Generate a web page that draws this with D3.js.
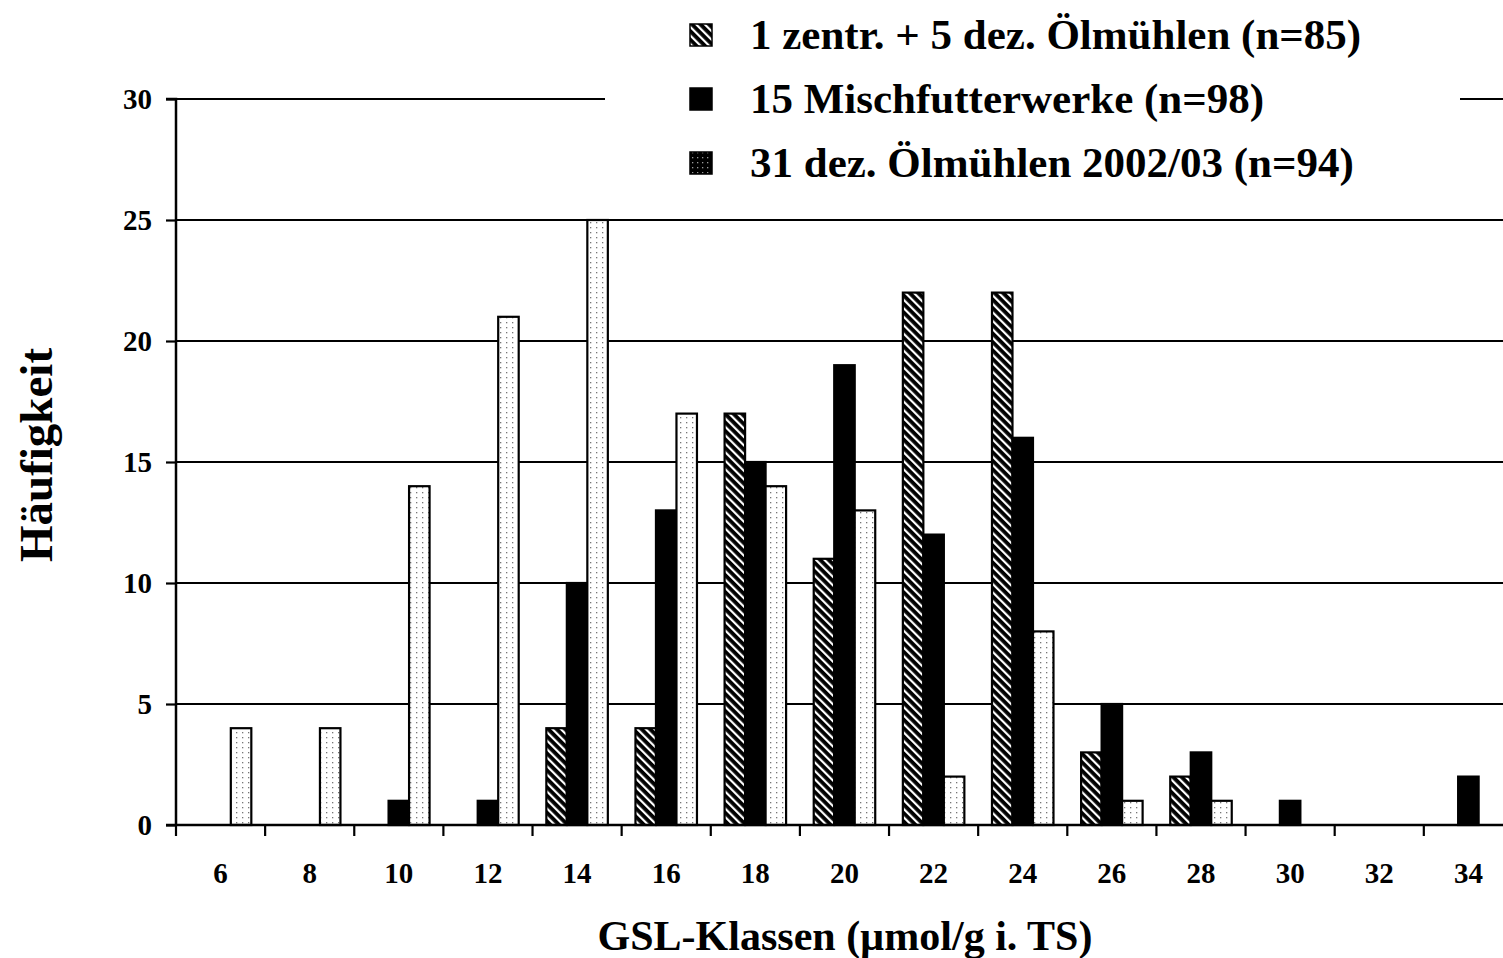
<!DOCTYPE html>
<html><head><meta charset="utf-8">
<script src="https://cdn.jsdelivr.net/npm/d3@7"></script>
<style>body{margin:0;background:#fff}svg{display:block}text{font-family:"Liberation Serif","Times New Roman",serif;font-weight:bold;fill:#000}</style>
</head><body><svg id="c" width="1503" height="958"></svg>
<script>
const categories = ["6","8","10","12","14","16","18","20","22","24","26","28","30","32","34"];
const seriesNames = ["1 zentr. + 5 dez. Ölmühlen (n=85)","15 Mischfutterwerke (n=98)","31 dez. Ölmühlen 2002/03 (n=94)"];
const zentrDez = [0,0,0,0,4,4,17,11,22,22,3,2,0,0,0];
const mischfutter = [0,0,1,1,10,13,15,19,12,16,5,3,1,0,2];
const dezOel = [4,4,14,21,25,17,14,13,2,8,1,1,0,0,0];
const yTicks = [0,5,10,15,20,25,30];
const xTitle = "GSL-Klassen (µmol/g i. TS)";
const yTitle = "Häufigkeit";

const svg = d3.select("#c");
const defs = svg.append("defs");
const ph = defs.append("pattern").attr("id","hatch").attr("patternUnits","userSpaceOnUse")
  .attr("width",6).attr("height",6).attr("patternTransform","rotate(-45)");
ph.append("rect").attr("width",6).attr("height",6).attr("fill","#000");
ph.append("rect").attr("x",0).attr("width",2.2).attr("height",6).attr("fill","#fff");
const pd = defs.append("pattern").attr("id","dots").attr("patternUnits","userSpaceOnUse").attr("width",6).attr("height",5);
pd.append("rect").attr("width",6).attr("height",5).attr("fill","#fff");
pd.append("rect").attr("x",2).attr("y",2).attr("width",1.3).attr("height",1.3).attr("fill","#777");
const pdl = defs.append("pattern").attr("id","dotsL").attr("patternUnits","userSpaceOnUse").attr("width",5).attr("height",5);
pdl.append("rect").attr("width",5).attr("height",5).attr("fill","#000");
pdl.append("rect").attr("x",2).attr("y",2).attr("width",1.3).attr("height",1.3).attr("fill","#999");
const fills = ["url(#hatch)","#000","url(#dots)"];
const legendFills = ["url(#hatch)","#000","url(#dotsL)"];

const x0 = 176, plotBottom = 825, plotTop = 99;
const x = d3.scaleBand().domain(categories).range([x0, x0 + 15*89.13]).padding(0);
const y = d3.scaleLinear().domain([0,30]).range([plotBottom, plotTop]);
const x1 = d3.scaleBand().domain([0,1,2]).range([0, 61.5]);
const groupOff = (x.bandwidth() - 61.5)/2;

// gridlines
svg.append("g").selectAll("line").data(yTicks.filter(d=>d>0)).join("line")
  .attr("x1",x0).attr("x2",1503).attr("y1",d=>y(d)).attr("y2",d=>y(d))
  .attr("stroke","#000").attr("stroke-width",2.2);

// bars
const series = [zentrDez, mischfutter, dezOel];
series.forEach((vals,si)=>{
  svg.append("g").selectAll("rect").data(categories.map((c,i)=>({c,v:vals[i]})).filter(d=>d.v>0)).join("rect")
    .attr("x",d=>x(d.c)+groupOff+x1(si))
    .attr("y",d=>y(d.v))
    .attr("width",x1.bandwidth())
    .attr("height",d=>plotBottom-y(d.v))
    .attr("fill",fills[si]).attr("stroke","#000").attr("stroke-width",2.2);
});

// y axis
const yAxis = d3.axisLeft(y).tickValues(yTicks).tickSize(10).tickPadding(14);
const gy = svg.append("g").attr("transform",`translate(${x0},0)`).call(yAxis);
gy.select(".domain").attr("stroke-width",2.5).attr("d",`M-10,${plotTop}H0V${plotBottom}`);
gy.selectAll(".tick line").attr("stroke-width",2.2);
gy.selectAll("text").attr("font-size",29).attr("font-family","Liberation Serif").attr("font-weight","bold");

// x axis
const gx = svg.append("g").attr("transform",`translate(0,${plotBottom})`);
gx.append("line").attr("x1",x0-10).attr("x2",1503).attr("y1",0).attr("y2",0).attr("stroke","#000").attr("stroke-width",2.5);
gx.selectAll(".tk").data(categories).join("line").attr("class","tk")
  .attr("x1",d=>x(d)).attr("x2",d=>x(d)).attr("y1",0).attr("y2",11).attr("stroke","#000").attr("stroke-width",2.2);
gx.selectAll("text").data(categories).join("text")
  .attr("x",d=>x(d)+x.bandwidth()/2).attr("y",58).attr("text-anchor","middle").attr("font-size",29).text(d=>d);

// titles
svg.append("text").attr("x",845).attr("y",950).attr("text-anchor","middle").attr("font-size",42).text(xTitle);
svg.append("text").attr("transform","translate(52,455) rotate(-90)").attr("text-anchor","middle").attr("font-size",47).text(yTitle);

// legend
const lg = svg.append("g");
lg.append("rect").attr("x",605).attr("y",0).attr("width",855).attr("height",195).attr("fill","#fff");
seriesNames.forEach((n,i)=>{
  const cy = 35 + i*64;
  lg.append("rect").attr("x",690).attr("y",cy-11).attr("width",22).attr("height",22)
    .attr("fill",legendFills[i]).attr("stroke","#000").attr("stroke-width",1.5);
  lg.append("text").attr("x",750).attr("y",cy+14).attr("font-size",43).text(n);
});
</script></body></html>
